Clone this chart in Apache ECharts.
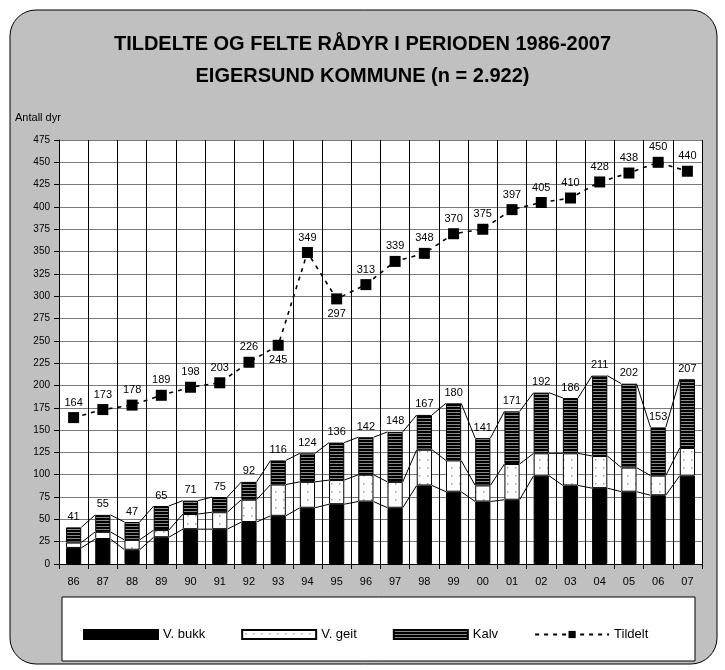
<!DOCTYPE html>
<html><head><meta charset="utf-8">
<script src="https://cdn.jsdelivr.net/npm/echarts@6/dist/echarts.min.js"></script>
<style>html,body{margin:0;padding:0;background:#fff}#c{width:725px;height:670px}</style>
</head><body><div id="c"></div>
<script>
const years = ['86','87','88','89','90','91','92','93','94','95','96','97','98','99','00','01','02','03','04','05','06','07'];
const bukk = [18,28,16,30,39,39,47,54,63,67,70,63,88,81,70,72,99,88,85,81,77,99];
const geit = [6,8,11,8,17,19,25,35,29,27,30,29,40,35,18,40,25,36,36,27,22,31];
const kalv = [17,19,20,27,15,17,20,27,32,42,42,56,39,64,53,59,68,62,90,94,54,77];
const totals = [41,55,47,65,71,75,92,116,124,136,142,148,167,180,141,171,192,186,211,202,153,207];
const tildelt = [164,173,178,189,198,203,226,245,349,297,313,339,348,370,375,397,405,410,428,438,450,440];
const belowLabels = ['93','95'];
const yTicks = {min:0, max:475, step:25};

const FONT = "'Liberation Sans',Arial,sans-serif";

function dotPattern(){
  const c=document.createElement('canvas'); c.width=8; c.height=8;
  const x=c.getContext('2d'); x.fillStyle='#fff'; x.fillRect(0,0,8,8);
  x.fillStyle='#a0a0a0'; x.fillRect(3,3,1.5,1.5);
  return c;
}
function stripePattern(){
  const c=document.createElement('canvas'); c.width=4; c.height=3;
  const x=c.getContext('2d'); x.fillStyle='#000'; x.fillRect(0,0,4,3);
  x.fillStyle='#8a8a8a'; x.fillRect(0,1,4,1);
  return c;
}

const chart = echarts.init(document.getElementById('c'), null, {renderer:'canvas'});
const BW = 0.52;
const levels = [bukk.map((v,i)=>v), bukk.map((v,i)=>v+geit[i]), totals];

chart.setOption({
  animation:false,
  backgroundColor:'#fff',
  textStyle:{fontFamily:FONT},
  graphic:[
    {type:'rect', z:-10, shape:{x:10,y:10,width:707,height:654,r:26}, style:{fill:'#c0c0c0', stroke:'#000', lineWidth:1}},
    {type:'rect', z:-5, shape:{x:62,y:597,width:633,height:64}, style:{fill:'#fff', stroke:'#000', lineWidth:1}}
  ],
  title:{
    text:'TILDELTE OG FELTE RÅDYR I PERIODEN 1986-2007\nEIGERSUND KOMMUNE (n = 2.922)',
    left:'center', top:23,
    textStyle:{fontFamily:FONT, fontWeight:'bold', fontSize:20, lineHeight:32, color:'#000'}
  },
  legend:{
    left:78, top:623, itemWidth:74, itemHeight:9, itemGap:36,
    textStyle:{fontFamily:FONT, fontSize:13, color:'#000'},
    data:[{name:'V. bukk', icon:'rect'},{name:'V. geit', icon:'rect'},{name:'Kalv', icon:'rect'},{name:'Tildelt'}]
  },
  grid:{left:59, right:23, top:140, bottom:106, show:true, backgroundColor:'#fff', borderWidth:0},
  xAxis:{
    type:'category', data:years, boundaryGap:true,
    axisLine:{lineStyle:{color:'#000', width:1}},
    axisTick:{show:true, length:5, lineStyle:{color:'#000'}},
    axisLabel:{color:'#000', fontSize:11, margin:12, fontFamily:FONT},
    splitLine:{show:true, lineStyle:{color:'#000', width:1}}
  },
  yAxis:{
    type:'value', min:yTicks.min, max:yTicks.max, interval:yTicks.step,
    name:'Antall dyr', nameLocation:'end', nameGap:17,
    nameTextStyle:{align:'left', padding:[0,0,0,-44], color:'#000', fontSize:11, fontFamily:FONT},
    axisLine:{show:true, lineStyle:{color:'#000', width:1}},
    axisTick:{show:true, length:5, lineStyle:{color:'#000'}},
    axisLabel:{color:'#000', fontSize:10, margin:9, fontFamily:FONT},
    splitLine:{show:true, lineStyle:{color:'#7a7a7a', width:1}}
  },
  series:[
    {name:'V. bukk', type:'bar', stack:'s', barWidth:(BW*100)+'%', data:bukk,
      itemStyle:{color:'#000', borderColor:'#000', borderWidth:1}},
    {name:'V. geit', type:'bar', stack:'s', barWidth:(BW*100)+'%', data:geit,
      itemStyle:{color:{image:dotPattern(), repeat:'repeat'}, borderColor:'#000', borderWidth:1}},
    {name:'Kalv', type:'bar', stack:'s', barWidth:(BW*100)+'%', data:kalv,
      itemStyle:{color:{image:stripePattern(), repeat:'repeat'}, borderColor:'#000', borderWidth:1},
      label:{show:true, position:'top', distance:5, color:'#000', fontSize:11, fontFamily:FONT,
        formatter:p=>String(totals[p.dataIndex])}},
    {name:'connectors', type:'custom', silent:true, z:1,
      data:years.slice(0,-1).map((y,i)=>[i]),
      encode:{x:0},
      renderItem:function(params, api){
        const i = api.value(0);
        const cw = api.size([1,0])[0];
        const half = cw*BW/2;
        const children = levels.map(L=>{
          const a = api.coord([i, L[i]]);
          const b = api.coord([i+1, L[i+1]]);
          return {type:'line', shape:{x1:a[0]+half, y1:a[1], x2:b[0]-half, y2:b[1]}, style:{stroke:'#000', lineWidth:1}};
        });
        return {type:'group', children};
      }
    },
    {name:'Tildelt', type:'line', data:tildelt.map((v,i)=>belowLabels.includes(years[i]) ? {value:v, label:{position:'bottom'}} : v),
      symbol:'rect', symbolSize:11, showAllSymbol:true, z:5,
      lineStyle:{color:'#000', width:1.6, type:[4,5]},
      itemStyle:{color:'#000'},
      label:{show:true, position:'top', distance:4, color:'#000', fontSize:11, fontFamily:FONT}
    }
  ]
});
</script></body></html>
